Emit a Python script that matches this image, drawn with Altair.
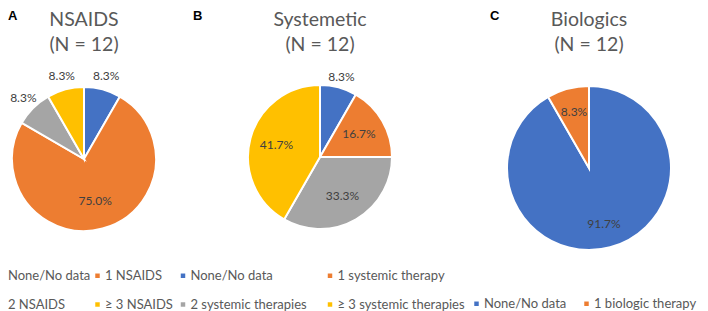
import altair as alt
import pandas as pd

# ---------------- data ----------------
panel_titles = ["NSAIDS", "Systemetic", "Biologics"]
panel_letters = ["A", "B", "C"]
n_labels = ["(N = 12)", "(N = 12)", "(N = 12)"]

nsaids_categories = ["None/No data", "1 NSAIDS", "2 NSAIDS", "≥ 3 NSAIDS"]
nsaids_values = [8.3, 75.0, 8.3, 8.3]

systemic_categories = ["None/No data", "1 systemic therapy",
                       "2 systemic therapies", "≥ 3 systemic therapies"]
systemic_values = [8.3, 16.7, 33.3, 41.7]

biologic_categories = ["None/No data", "1 biologic therapy"]
biologic_values = [91.7, 8.3]

palette = ["#4472C4", "#ED7D31", "#A5A5A5", "#FFC000"]

# ---------------- layout (chart pixel coords) ----------------
FONT = "Lato"
TEXT_COLOR = "#595959"
LABEL_COLOR = "#404040"

layout = [
    dict(cx=76, cy=151, r=72, r_in=43, r_out=86, outside=[0, 2, 3],
         letter_x=0, legend=dict(x=-14, y=261, colpad=0)),
    dict(cx=312, cy=149, r=72, r_in=45, r_out=83, outside=[0],
         letter_x=185, legend=dict(x=168.5, y=261, colpad=16)),
    dict(cx=581, cy=160, r=82, r_in=58, r_out=95, outside=[],
         letter_x=482, legend=dict(x=462, y=289, colpad=13)),
]

series = [
    (nsaids_categories, nsaids_values),
    (systemic_categories, systemic_values),
    (biologic_categories, biologic_values),
]

titles_df = pd.DataFrame({"title": panel_titles, "n": n_labels, "letter": panel_letters})

layers = []
for i, ((cats, vals), cfg) in enumerate(zip(series, layout)):
    df = pd.DataFrame({"category": cats, "value": vals, "order": list(range(len(cats)))})
    df["outside"] = [k in cfg["outside"] for k in range(len(cats))]
    base = alt.Chart(df).transform_calculate(label="format(datum.value, '.1f') + '%'")
    theta = alt.Theta("value:Q", stack="normalize")
    order = alt.Order("order:Q")
    lg = cfg["legend"]
    arc = base.mark_arc(radius=cfg["r"], stroke="white", strokeWidth=2).encode(
        theta=theta,
        order=order,
        color=alt.Color(
            "category:N",
            scale=alt.Scale(domain=cats, range=palette[:len(cats)]),
            legend=alt.Legend(
                title=None, orient="none", legendX=lg["x"], legendY=lg["y"],
                columns=2, direction="horizontal", padding=0,
                columnPadding=lg["colpad"], rowPadding=15,
                symbolType="square", symbolSize=20, symbolStrokeWidth=0,
                symbolOffset=0, labelOffset=1,
                labelFont=FONT, labelFontSize=13, labelColor=TEXT_COLOR,
                labelLimit=300,
            ),
        ),
        x=alt.value(cfg["cx"]),
        y=alt.value(cfg["cy"]),
    )
    txt_in = base.mark_text(radius=cfg["r_in"], font=FONT, fontSize=12,
                            color=LABEL_COLOR).encode(
        theta=theta, order=order, detail="category:N",
        text=alt.condition(alt.datum.outside, alt.value(""), alt.Text("label:N")),
        x=alt.value(cfg["cx"]), y=alt.value(cfg["cy"]),
    )
    txt_out = base.mark_text(radius=cfg["r_out"], font=FONT, fontSize=12,
                             color=LABEL_COLOR).encode(
        theta=theta, order=order, detail="category:N",
        text=alt.condition(alt.datum.outside, alt.Text("label:N"), alt.value("")),
        x=alt.value(cfg["cx"]), y=alt.value(cfg["cy"]),
    )
    tbase = alt.Chart(titles_df).transform_filter(alt.datum.title == panel_titles[i])
    title1 = tbase.mark_text(font=FONT, fontSize=19.5, color=TEXT_COLOR,
                             baseline="alphabetic").encode(
        text="title:N", x=alt.value(cfg["cx"]), y=alt.value(18))
    title2 = tbase.mark_text(font=FONT, fontSize=19.5, color=TEXT_COLOR,
                             baseline="alphabetic").encode(
        text="n:N", x=alt.value(cfg["cx"]), y=alt.value(43))
    letter = tbase.mark_text(font="Liberation Sans", fontSize=13, fontWeight="bold",
                             color="#000000", align="left",
                             baseline="alphabetic").encode(
        text="letter:N", x=alt.value(cfg["letter_x"]), y=alt.value(12))
    layers += [arc, txt_in, txt_out, title1, title2, letter]

chart = (
    alt.layer(*layers)
    .resolve_scale(color="independent")
    .properties(width=692, height=303, padding=0,
                autosize=alt.AutoSizeParams(type="none"))
    .configure_view(strokeWidth=0)
)

chart.save("out.html", embed_options={"renderer": "svg", "actions": False})
